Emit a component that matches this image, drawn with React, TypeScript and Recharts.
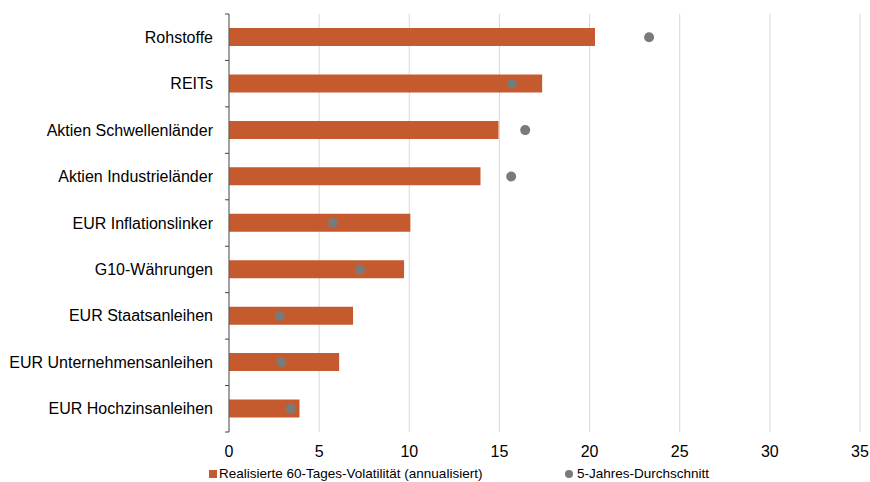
import { ComposedChart, Bar, Line, XAxis, YAxis, CartesianGrid } from 'recharts';

const categories = [
  'Rohstoffe',
  'REITs',
  'Aktien Schwellenländer',
  'Aktien Industrieländer',
  'EUR Inflationslinker',
  'G10-Währungen',
  'EUR Staatsanleihen',
  'EUR Unternehmensanleihen',
  'EUR Hochzinsanleihen',
];
const realizedVol = [20.3, 17.37, 14.95, 13.95, 10.06, 9.71, 6.88, 6.11, 3.91];
const fiveYearAvg = [23.3, 15.69, 16.43, 15.65, 5.76, 7.27, 2.82, 2.9, 3.43];
const xTicks = [0, 5, 10, 15, 20, 25, 30, 35];

const BAR_COLOR = '#C55A2E';
const DOT_COLOR = '#7A7A7A';
const FONT = '"Liberation Sans", Arial, sans-serif';

const WIDTH = 870;
const HEIGHT = 482;
const MARGIN = { top: 14, right: 10, left: 0, bottom: 20 };
const Y_AXIS_WIDTH = 229;
const X_AXIS_HEIGHT = 30;
const PLOT_H = HEIGHT - MARGIN.top - MARGIN.bottom - X_AXIS_HEIGHT;
const BAND = PLOT_H / categories.length;
const AXIS_X = MARGIN.left + Y_AXIS_WIDTH;

const data = categories.map((name, i) => ({
  name,
  vol: realizedVol[i],
  avg: fiveYearAvg[i],
}));

// category label plus a small tick at the lower band boundary (and the top one for the first row)
function CategoryTick(props: any) {
  const { x, y, payload, index } = props;
  const bottom = y + BAND / 2;
  const top = y - BAND / 2;
  return (
    <g>
      <text x={x} y={y} dy="0.35em" textAnchor="end" fill="#000" fontSize={16} fontFamily={FONT}>
        {payload.value}
      </text>
      <line x1={AXIS_X - 4} x2={AXIS_X} y1={bottom} y2={bottom} stroke="#404040" strokeWidth={1} />
      {index === 0 && (
        <line x1={AXIS_X - 4} x2={AXIS_X} y1={top} y2={top} stroke="#404040" strokeWidth={1} />
      )}
    </g>
  );
}

export default function App() {
  return (
    <div style={{ position: 'absolute', left: 0, top: 0, width: WIDTH, height: HEIGHT, background: '#fff' }}>
      <ComposedChart width={WIDTH} height={HEIGHT} data={data} layout="vertical" margin={MARGIN}>
        <CartesianGrid horizontal={false} stroke="#D9D9D9" />
        <XAxis
          type="number"
          domain={[0, 35]}
          ticks={xTicks}
          height={X_AXIS_HEIGHT}
          axisLine={false}
          tickLine={false}
          tickSize={6}
          tickMargin={8}
          tick={{ fill: '#000', fontSize: 16, fontFamily: FONT }}
          interval={0}
        />
        <YAxis
          type="category"
          dataKey="name"
          width={Y_AXIS_WIDTH}
          axisLine={{ stroke: '#595959' }}
          tickLine={false}
          tickSize={4}
          tickMargin={12}
          tick={<CategoryTick />}
          interval={0}
        />
        <Bar dataKey="vol" fill={BAR_COLOR} barSize={18} isAnimationActive={false} />
        <Line
          dataKey="avg"
          stroke="none"
          dot={{ r: 5, fill: DOT_COLOR, stroke: 'none' }}
          activeDot={false}
          isAnimationActive={false}
        />
      </ComposedChart>
      <div
        style={{
          position: 'absolute',
          top: 466,
          left: 209,
          fontFamily: FONT,
          fontSize: 13.5,
          color: '#000',
          display: 'flex',
          alignItems: 'center',
          whiteSpace: 'nowrap',
        }}
      >
        <span style={{ display: 'inline-block', width: 8, height: 8, background: BAR_COLOR, marginRight: 2 }} />
        <span style={{ width: 346 }}>Realisierte 60-Tages-Volatilität (annualisiert)</span>
        <span
          style={{ display: 'inline-block', width: 8, height: 8, borderRadius: 4, background: DOT_COLOR, marginRight: 4 }}
        />
        <span>5-Jahres-Durchschnitt</span>
      </div>
    </div>
  );
}
